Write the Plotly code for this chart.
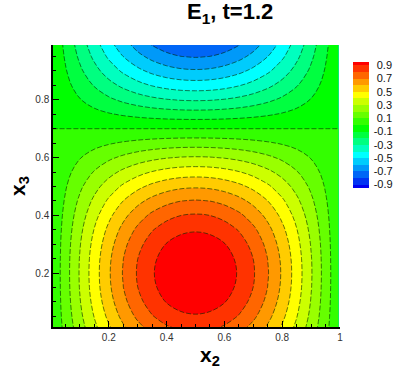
import numpy as np
import plotly.graph_objects as go

# x2 profile of E1 (read across the lobe, peak at x2 = 0.5)
X2 = [0.005, 0.05, 0.1, 0.15, 0.2, 0.25, 0.3, 0.35, 0.4, 0.45, 0.5,
      0.55, 0.6, 0.65, 0.7, 0.75, 0.8, 0.85, 0.9, 0.95, 0.995]
E1_X2 = [0.016, 0.156, 0.309, 0.454, 0.588, 0.707, 0.809, 0.891, 0.951, 0.988, 1.0,
         0.988, 0.951, 0.891, 0.809, 0.707, 0.588, 0.454, 0.309, 0.156, 0.016]

# x3 profile of E1 (max near x3 = 0.2, zero line at x3 = 0.7)
X3 = [0.0, 0.05, 0.1, 0.15, 0.2, 0.25, 0.3, 0.35, 0.4, 0.45, 0.5,
      0.55, 0.6, 0.65, 0.7, 0.75, 0.8, 0.85, 0.9, 0.95, 1.0]
E1_X3 = [0.809, 0.891, 0.951, 0.988, 1.0, 0.988, 0.951, 0.891, 0.809, 0.707, 0.588,
         0.454, 0.309, 0.156, 0.0, -0.156, -0.309, -0.454, -0.588, -0.707, -0.809]

LEVEL_START, LEVEL_END, LEVEL_STEP = -0.9, 0.9, 0.1
CBAR_TICKS = [-0.9, -0.7, -0.5, -0.3, -0.1, 0.1, 0.3, 0.5, 0.7, 0.9]

z = np.outer(E1_X3, E1_X2)

RAINBOW = [[0.0, "#0000f0"], [0.263, "#00ffff"], [0.474, "#00ff00"],
           [0.737, "#ffff00"], [1.0, "#ff0000"]]

FONT = "Liberation Sans, Arial"

# right-align colorbar labels: pad positives by roughly a minus-sign width
cbar_text = [f"{v:.1f}" if v < 0 else "\u2008" + f"{v:.1f}" for v in CBAR_TICKS]

fig = go.Figure()

fig.add_trace(go.Contour(
    x=X2, y=X3, z=z,
    colorscale=RAINBOW,
    autocontour=False,
    contours=dict(start=LEVEL_START, end=LEVEL_END, size=LEVEL_STEP,
                  coloring="fill", showlines=False),
    line_width=0,
    colorbar=dict(
        x=1.0436, xanchor="left", xpad=0,
        y=0.94, yanchor="top", ypad=0,
        len=0.447, lenmode="fraction",
        thickness=16, outlinewidth=0,
        tickvals=CBAR_TICKS, ticktext=cbar_text,
        ticks="outside", ticklen=3, tickcolor="rgba(0,0,0,0)",
        tickfont=dict(family=FONT, size=11, color="#111"),
    ),
    hoverinfo="skip",
))

fig.add_trace(go.Contour(
    x=X2, y=X3, z=z,
    autocontour=False,
    contours=dict(start=LEVEL_START, end=LEVEL_END, size=LEVEL_STEP,
                  coloring="none", showlines=True),
    line=dict(color="rgba(0,40,0,0.6)", width=1, dash="5px,2px"),
    showscale=False,
    hoverinfo="skip",
))

axis_common = dict(
    showgrid=False, zeroline=False, automargin=False,
    showline=True, linecolor="black", linewidth=1.5,
    ticks="inside", ticklen=6, tickcolor="black", tickwidth=1,
    minor=dict(ticks="inside", ticklen=3, dtick=0.05, tickcolor="black"),
    tickfont=dict(family=FONT, size=10, color="#333"),
)

fig.update_xaxes(range=[0.007, 1.0], tickvals=[0.2, 0.4, 0.6, 0.8, 1.0],
                 ticktext=["0.2", "0.4", "0.6", "0.8", "1"], **axis_common)
fig.update_yaxes(range=[0.013, 0.99], tickvals=[0.2, 0.4, 0.6, 0.8],
                 title=dict(text="<b>x<sub>3</sub></b>", standoff=4,
                            font=dict(family=FONT, size=21, color="black")),
                 **axis_common)

fig.add_annotation(text="<b>x<sub>2</sub></b>", xref="paper", yref="paper",
                   x=0.548, y=-0.05, xanchor="center", yanchor="top", showarrow=False,
                   font=dict(family=FONT, size=21, color="black"))

fig.add_annotation(text="<b>E<sub>1</sub>, t=1.2</b>", xref="paper", yref="paper",
                   x=0.618, y=1.055, xanchor="center", yanchor="bottom", showarrow=False,
                   font=dict(family=FONT, size=22, color="black"))

fig.update_layout(
    width=415, height=369,
    margin=dict(l=53, r=75, t=45, b=42),
    paper_bgcolor="white", plot_bgcolor="white",
    showlegend=False,
)

fig.write_html("out.html", config={"displayModeBar": False},
               post_script="document.body.style.margin='0';")
